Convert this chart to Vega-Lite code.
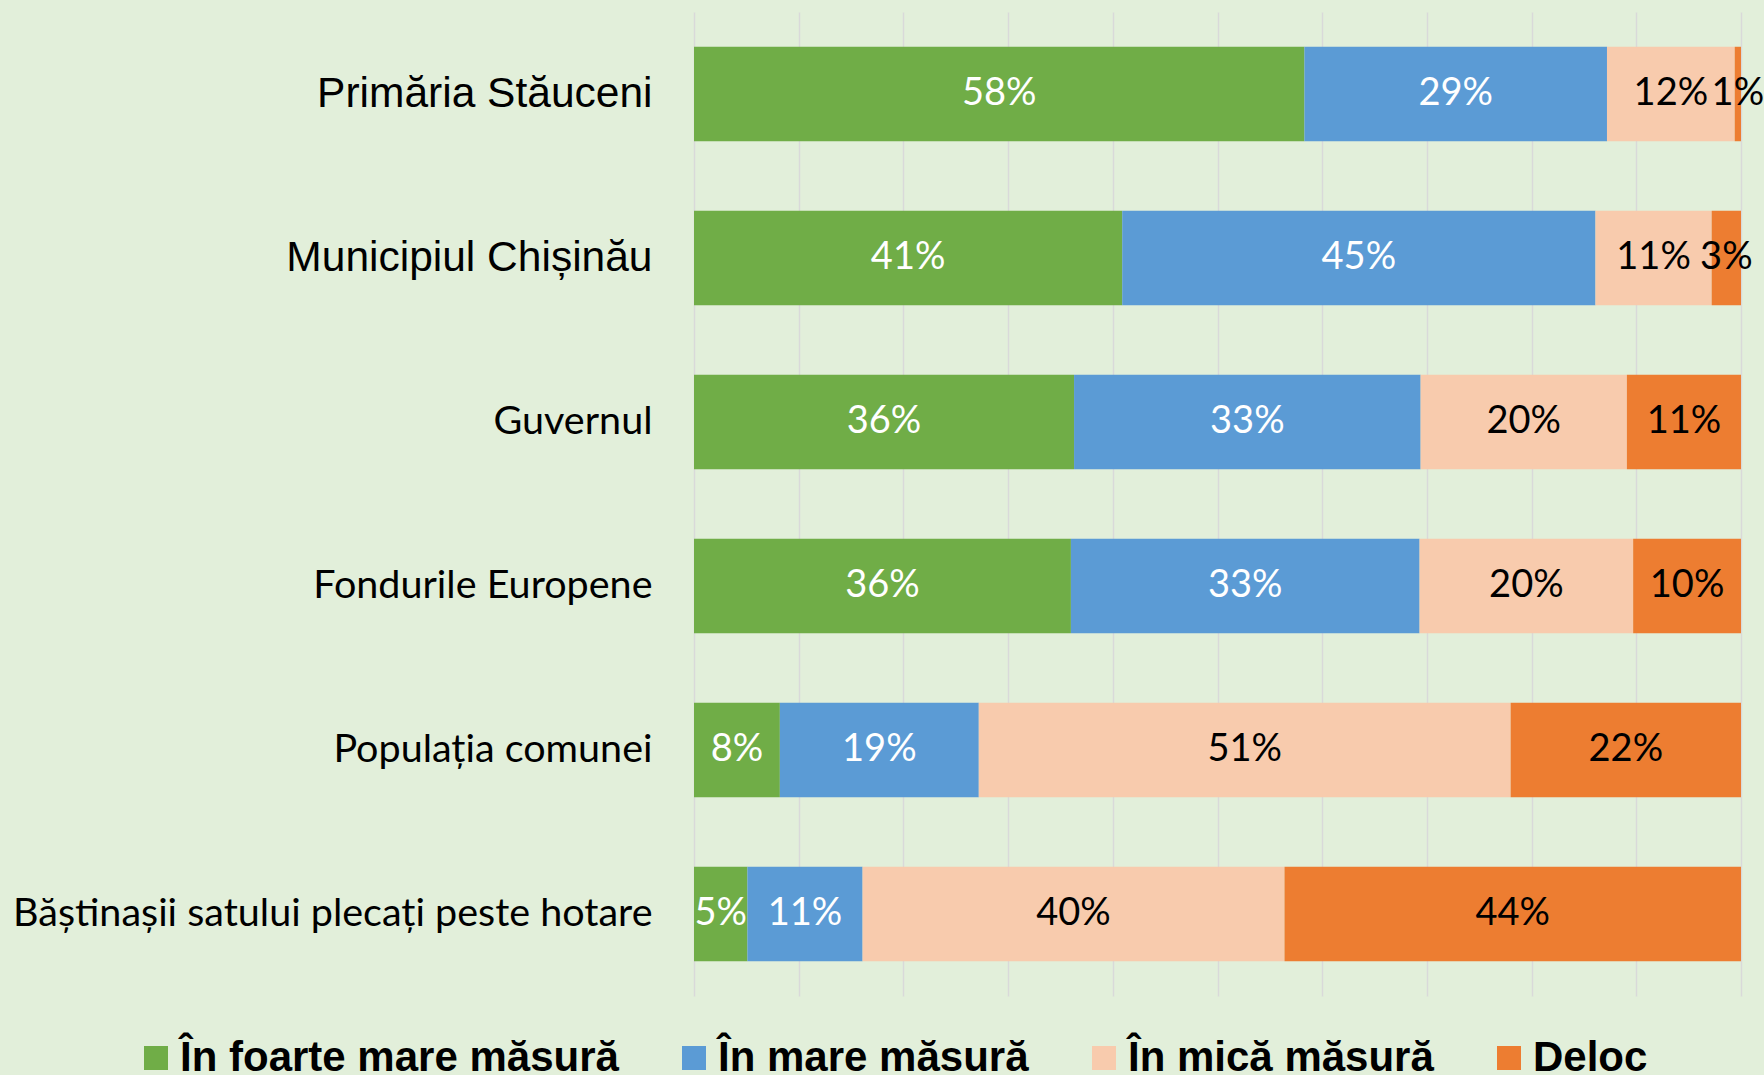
{
  "$schema": "https://vega.github.io/schema/vega-lite/v6.json",
  "width": 1047,
  "height": 984,
  "autosize": {"type": "none"},
  "padding": {"left": 694, "top": 12, "right": 23, "bottom": 79},
  "background": "#E2EFDA",
  "config": {"view": {"stroke": null}},
  "data": {
    "values": [
      {"inst": "Primăria Stăuceni", "cat": "În foarte mare măsură", "order": 1, "v": 0.583},
      {"inst": "Primăria Stăuceni", "cat": "În mare măsură", "order": 2, "v": 0.289},
      {"inst": "Primăria Stăuceni", "cat": "În mică măsură", "order": 3, "v": 0.122},
      {"inst": "Primăria Stăuceni", "cat": "Deloc", "order": 4, "v": 0.006},
      {"inst": "Municipiul Chișinău", "cat": "În foarte mare măsură", "order": 1, "v": 0.409},
      {"inst": "Municipiul Chișinău", "cat": "În mare măsură", "order": 2, "v": 0.452},
      {"inst": "Municipiul Chișinău", "cat": "În mică măsură", "order": 3, "v": 0.111},
      {"inst": "Municipiul Chișinău", "cat": "Deloc", "order": 4, "v": 0.028},
      {"inst": "Guvernul", "cat": "În foarte mare măsură", "order": 1, "v": 0.363},
      {"inst": "Guvernul", "cat": "În mare măsură", "order": 2, "v": 0.331},
      {"inst": "Guvernul", "cat": "În mică măsură", "order": 3, "v": 0.197},
      {"inst": "Guvernul", "cat": "Deloc", "order": 4, "v": 0.109},
      {"inst": "Fondurile Europene", "cat": "În foarte mare măsură", "order": 1, "v": 0.360},
      {"inst": "Fondurile Europene", "cat": "În mare măsură", "order": 2, "v": 0.333},
      {"inst": "Fondurile Europene", "cat": "În mică măsură", "order": 3, "v": 0.204},
      {"inst": "Fondurile Europene", "cat": "Deloc", "order": 4, "v": 0.103},
      {"inst": "Populația comunei", "cat": "În foarte mare măsură", "order": 1, "v": 0.082},
      {"inst": "Populația comunei", "cat": "În mare măsură", "order": 2, "v": 0.190},
      {"inst": "Populația comunei", "cat": "În mică măsură", "order": 3, "v": 0.508},
      {"inst": "Populația comunei", "cat": "Deloc", "order": 4, "v": 0.220},
      {"inst": "Băștinașii satului plecați peste hotare", "cat": "În foarte mare măsură", "order": 1, "v": 0.051},
      {"inst": "Băștinașii satului plecați peste hotare", "cat": "În mare măsură", "order": 2, "v": 0.110},
      {"inst": "Băștinașii satului plecați peste hotare", "cat": "În mică măsură", "order": 3, "v": 0.403},
      {"inst": "Băștinașii satului plecați peste hotare", "cat": "Deloc", "order": 4, "v": 0.436}
    ]
  },
  "transform": [
    {"stack": "v", "groupby": ["inst"], "sort": [{"field": "order", "order": "ascending"}], "as": ["v0", "v1"]}
  ],
  "encoding": {
    "y": {
      "field": "inst",
      "type": "nominal",
      "sort": ["Primăria Stăuceni", "Municipiul Chișinău", "Guvernul", "Fondurile Europene", "Populația comunei", "Băștinașii satului plecați peste hotare"],
      "scale": {"paddingInner": 0.424, "paddingOuter": 0.212},
      "axis": {
        "title": null,
        "ticks": false,
        "domain": false,
        "labelPadding": 42,
        "labelLimit": 0,
        "labelColor": "#000000",
        "labelFont": {"condition": {"test": "datum.value == 'Primăria Stăuceni' || datum.value == 'Municipiul Chișinău'", "value": "Liberation Sans"}, "value": "Lato"},
        "labelFontSize": {"condition": {"test": "datum.value == 'Primăria Stăuceni' || datum.value == 'Municipiul Chișinău'", "value": 42.5}, "value": 39.5}
      }
    }
  },
  "layer": [
    {
      "mark": {"type": "bar"},
      "encoding": {
        "x": {
          "field": "v0",
          "type": "quantitative",
          "scale": {"domain": [0, 1], "nice": false, "zero": true},
          "axis": {
            "title": null,
            "labels": false,
            "ticks": false,
            "domain": false,
            "grid": true,
            "gridColor": "#D9D9D9",
            "gridWidth": 1.5,
            "values": [0, 0.1, 0.2, 0.3, 0.4, 0.5, 0.6, 0.7, 0.8, 0.9, 1.0]
          }
        },
        "x2": {"field": "v1"},
        "color": {
          "field": "cat",
          "type": "nominal",
          "scale": {
            "domain": ["În foarte mare măsură", "În mare măsură", "În mică măsură", "Deloc"],
            "range": ["#70AD47", "#5B9BD5", "#F8CBAD", "#ED7D31"]
          },
          "legend": {
            "title": null,
            "orient": "none",
            "direction": "horizontal",
            "legendX": -559,
            "legendY": 1025,
            "symbolType": "square",
            "symbolSize": 576,
            "symbolStrokeWidth": 0,
            "labelFont": "Liberation Sans",
            "labelFontWeight": "bold",
            "labelFontSize": 42,
            "labelColor": "#000000",
            "labelOffset": 3,
            "labelLimit": 0,
            "columnPadding": 54
          }
        }
      }
    },
    {
      "mark": {"type": "text", "font": "Lato", "fontSize": 38, "baseline": "middle", "align": "center", "dx": {"expr": "datum.v * 523.5"}},
      "encoding": {
        "x": {"field": "v0", "type": "quantitative"},
        "text": {"field": "v", "type": "quantitative", "format": ".0%"},
        "color": {
          "condition": {"test": "datum.order <= 2", "value": "#FFFFFF"},
          "value": "#000000"
        }
      }
    }
  ]
}
